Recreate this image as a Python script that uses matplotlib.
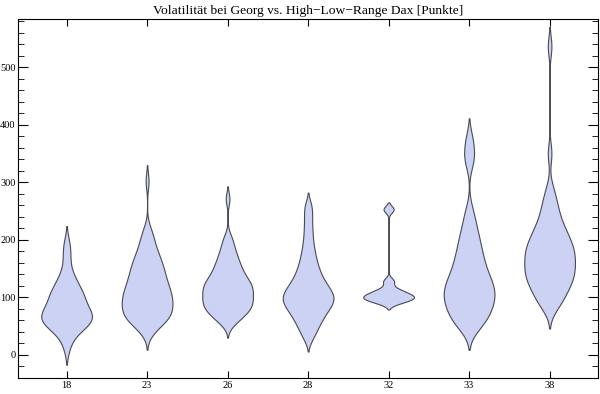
import numpy as np
import matplotlib
matplotlib.use("Agg")
import matplotlib.pyplot as plt
from matplotlib.ticker import MultipleLocator

# Volatilitaet je Gruppe (Punkte), aus dem Bild geschaetzt
labels = ["18", "23", "26", "28", "32", "33", "38"]
g18 = [15, 36, 43, 48, 52, 56, 59, 62, 64, 66, 68, 71, 74, 78, 83, 88, 94, 98, 102, 106,
       111, 117, 124, 133, 145, 170, 192]
g23 = [37, 44, 49, 53, 56, 59, 61, 63, 65, 67, 69, 71, 73, 75, 77, 79, 81, 83, 85, 87,
       89, 91, 93, 95, 97, 99, 101, 103, 105, 107, 109, 111, 113, 115, 118, 120, 123, 125,
       128, 130, 133, 135, 138, 141, 144, 147, 150, 153, 156, 159, 162, 166, 170, 174, 178,
       183, 189, 195, 202, 210, 220, 302]
g26 = [52, 59, 63, 66, 69, 72, 75, 77, 79, 81, 83, 85, 87, 89, 91, 93, 95, 97, 99, 101,
       103, 105, 107, 109, 111, 113, 115, 117, 119, 121, 123, 125, 127, 129, 131, 134, 137,
       140, 143, 146, 149, 153, 157, 161, 165, 170, 175, 181, 188, 196, 206, 271]
g28 = [30, 42, 50, 57, 63, 68, 73, 77, 81, 85, 88, 91, 94, 97, 100, 103, 106, 109, 112,
       116, 120, 124, 129, 134, 140, 147, 154, 163, 173, 185, 200, 218, 238, 258]
g32 = [91, 95, 98, 100, 102, 105, 109, 114, 128, 253]
g33 = [45, 52, 58, 64, 69, 74, 79, 84, 88, 92, 96, 100, 104, 108, 112, 116, 120, 124, 128,
       133, 138, 144, 150, 156, 163, 170, 178, 186, 195, 205, 216, 230, 250, 335, 352, 375]
g38 = [80, 86, 92, 98, 103, 108, 112, 116, 120, 124, 127, 130, 133, 136, 139, 142, 145,
       148, 151, 154, 157, 160, 163, 166, 169, 172, 175, 178, 181, 184, 187, 190, 193, 196,
       200, 204, 208, 212, 216, 221, 226, 232, 239, 247, 255, 264, 275, 290, 350, 536]
groups = [g18, g23, g26, g28, g32, g33, g38]
bandwidth = [16, 14, 11, 12, 6, 18, 17]


def kde_stats(data, h, cut=2.0):
    data = np.asarray(data, float)
    coords = np.linspace(data.min() - cut * h, data.max() + cut * h, 600)
    vals = np.exp(-0.5 * ((coords[:, None] - data[None, :]) / h) ** 2).sum(axis=1)
    return dict(coords=coords, vals=vals, mean=data.mean(), median=np.median(data),
                min=data.min(), max=data.max())


plt.rcParams['font.family'] = ['Liberation Serif', 'DejaVu Serif']

fig = plt.figure(figsize=(6, 3.94), dpi=100)
ax = fig.add_axes([0.0305, 0.0406, 0.966, 0.9104])

stats = [kde_stats(g, h) for g, h in zip(groups, bandwidth)]
pos = np.arange(1, len(groups) + 1)
parts = ax.violin(stats, positions=pos, widths=0.63, showmeans=False,
                  showextrema=False, showmedians=False)
for b in parts['bodies']:
    b.set_facecolor('#cbd2f3')
    b.set_edgecolor('#4a4a55')
    b.set_alpha(1)
    b.set_linewidth(0.8)

ax.set_xlim(0.4, 7.6)
ax.set_ylim(-40, 583)
ax.set_xticks(pos)
ax.set_xticklabels(labels)
ax.yaxis.set_major_locator(MultipleLocator(100))
ax.yaxis.set_minor_locator(MultipleLocator(20))
ax.tick_params(direction='in', top=True, right=True, labelsize=7.5, pad=2)
ax.tick_params(axis='y', which='major', length=7)
ax.tick_params(axis='y', which='minor', length=4, right=True, direction='in')
ax.tick_params(axis='x', length=5)
for s in ax.spines.values():
    s.set_linewidth(0.8)

ax.set_title("Volatilität bei Georg vs. High\u2212Low\u2212Range Dax [Punkte]", fontsize=9.7, pad=4)

fig.savefig("out.png", dpi=100)
